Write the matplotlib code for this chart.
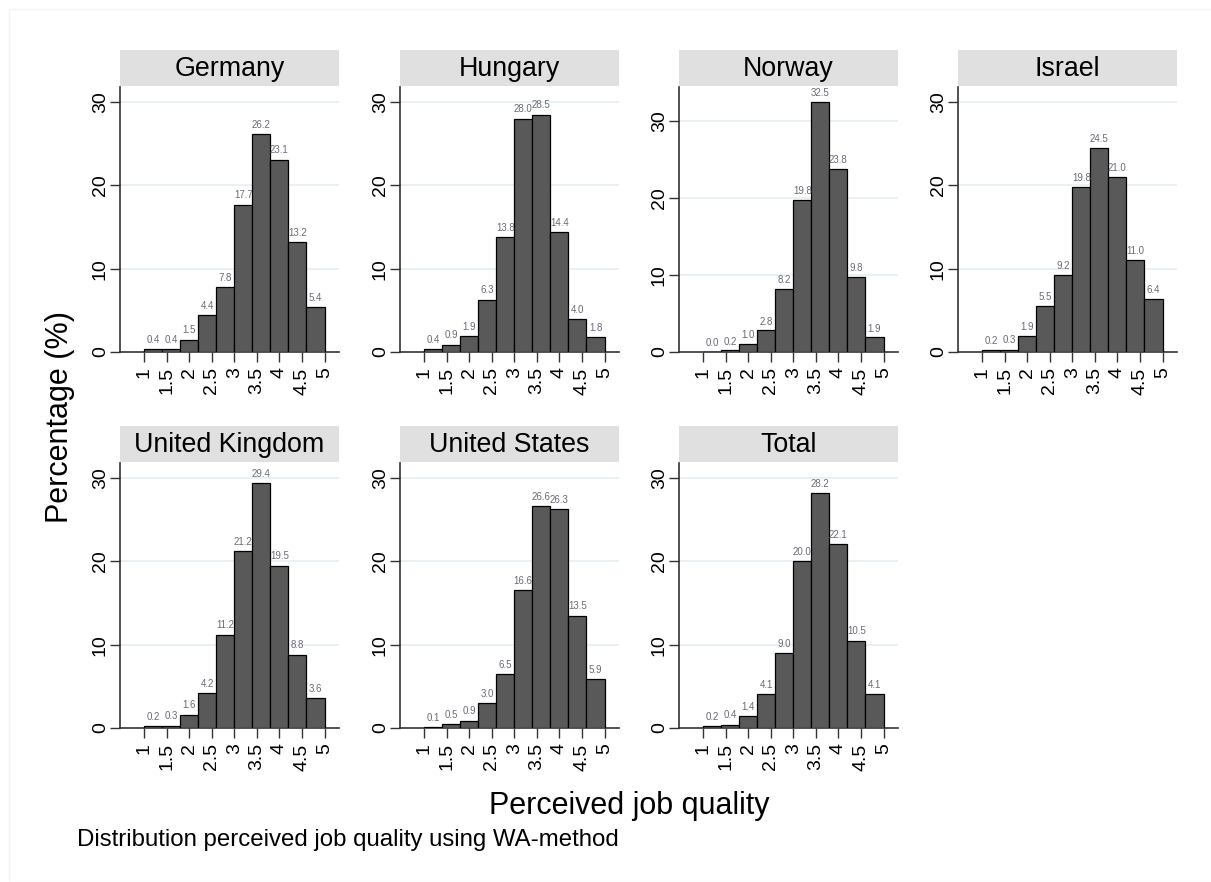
import matplotlib.pyplot as plt
import numpy as np
from matplotlib.patches import Rectangle

plt.rcParams['font.family'] = ['Liberation Sans', 'DejaVu Sans']

# histogram bins (width 0.4 from 1 to 5)
bin_edges = [1.0, 1.4, 1.8, 2.2, 2.6, 3.0, 3.4, 3.8, 4.2, 4.6, 5.0]

countries = ['Germany', 'Hungary', 'Norway', 'Israel',
             'United Kingdom', 'United States', 'Total']

germany = [0.4, 0.4, 1.5, 4.4, 7.8, 17.7, 26.2, 23.1, 13.2, 5.4]
hungary = [0.4, 0.9, 1.9, 6.3, 13.8, 28.0, 28.5, 14.4, 4.0, 1.8]
norway = [0.0, 0.2, 1.0, 2.8, 8.2, 19.8, 32.5, 23.8, 9.8, 1.9]
israel = [0.2, 0.3, 1.9, 5.5, 9.2, 19.8, 24.5, 21.0, 11.0, 6.4]
uk = [0.2, 0.3, 1.6, 4.2, 11.2, 21.2, 29.4, 19.5, 8.8, 3.6]
us = [0.1, 0.5, 0.9, 3.0, 6.5, 16.6, 26.6, 26.3, 13.5, 5.9]
total = [0.2, 0.4, 1.4, 4.1, 9.0, 20.0, 28.2, 22.1, 10.5, 4.1]

series = [germany, hungary, norway, israel, uk, us, total]

x_ticks = [1, 1.5, 2, 2.5, 3, 3.5, 4, 4.5, 5]
x_ticklabels = ['1', '1.5', '2', '2.5', '3', '3.5', '4', '4.5', '5']
y_ticks = [0, 10, 20, 30]

W, H = 1211, 882
fig = plt.figure(figsize=(W / 100, H / 100), dpi=100)

# faint outer frame
fig.patches.append(Rectangle((9 / W, 0), 1.2, 1 - 9 / H, transform=fig.transFigure,
                             fill=False, edgecolor='#f4f4f4', linewidth=1))

col_left = [120, 400, 679, 958]
ax_w = 219
rows = [(87, 352), (463, 728)]

edges = np.array(bin_edges)
lefts = edges[:-1]
widths = np.diff(edges)

for i, (name, vals) in enumerate(zip(countries, series)):
    r, c = divmod(i, 4)
    top, bot = rows[r]
    x0 = col_left[c]
    ax = fig.add_axes([x0 / W, 1 - bot / H, ax_w / W, (bot - top) / H])

    bars = ax.bar(lefts, vals, width=widths, align='edge', color='#595959',
                  edgecolor='black', linewidth=0.9, zorder=3)
    for b, v in zip(bars, vals):
        ax.text(b.get_x() + b.get_width() / 2, v + 0.5, f'{v:.1f}',
                ha='center', va='bottom', fontsize=7, color='#6a6a78', zorder=4)

    ymax = max(30, max(vals)) * 1.06
    ax.set_ylim(0, ymax)
    ax.set_xlim(0.47, 5.32)

    ax.set_yticks(y_ticks)
    ax.set_yticklabels([str(t) for t in y_ticks], rotation=90, va='center', fontsize=14)
    ax.set_xticks(x_ticks)
    ax.set_xticklabels(x_ticklabels, rotation=90, fontsize=14)
    ax.tick_params(axis='both', direction='out', length=7, width=1, color='#333333')
    ax.tick_params(axis='x', pad=4)
    ax.tick_params(axis='y', pad=1)

    for t in [10, 20, 30]:
        ax.axhline(t, color='#e6eff2', linewidth=1.2, zorder=1)

    for s in ['top', 'right']:
        ax.spines[s].set_visible(False)
    for s in ['left', 'bottom']:
        ax.spines[s].set_color('#333333')
        ax.spines[s].set_linewidth(1.2)

    # panel strip
    sax = fig.add_axes([x0 / W, 1 - (top - 1) / H, ax_w / W, 36 / H])
    sax.set_facecolor('#e0e0e0')
    sax.set_xticks([])
    sax.set_yticks([])
    for s in sax.spines.values():
        s.set_visible(False)
    sax.text(0.5, 0.48, name, ha='center', va='center', fontsize=19.3,
             transform=sax.transAxes)

fig.text(60 / W, 1 - 417 / H, 'Percentage (%)', rotation=90, ha='center',
         va='center', fontsize=22)
fig.text(629 / W, 1 - 806 / H, 'Perceived job quality', ha='center',
         va='center', fontsize=22)
fig.text(77 / W, 1 - 840 / H, 'Distribution perceived job quality using WA-method',
         ha='left', va='center', fontsize=17.3)

fig.savefig('out.png', dpi=100)
